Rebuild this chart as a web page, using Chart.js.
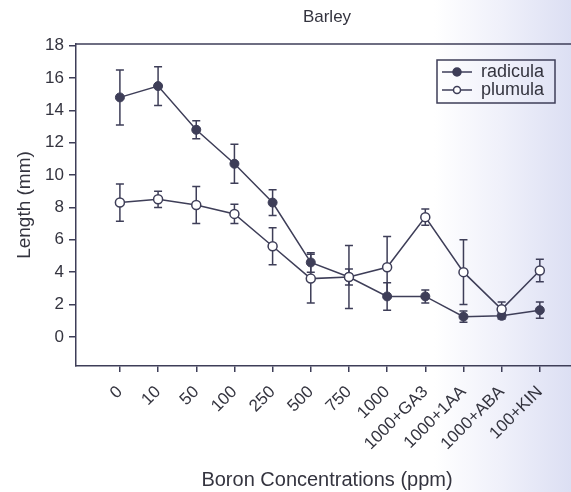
<!DOCTYPE html>
<html>
<head>
<meta charset="utf-8">
<title>Barley</title>
<script src="https://cdn.jsdelivr.net/npm/chart.js@4"></script>
<style>
  body {
    margin: 0;
    width: 571px;
    height: 492px;
    overflow: hidden;
    background: linear-gradient(90deg, #ffffff 0%, #ffffff 76%, #eff0fa 88%, #dcdff3 100%);
  }
</style>
</head>
<body>
<!-- the plot frame runs a little past the right edge, as in the scanned figure -->
<canvas id="chart" width="584" height="492"></canvas>
<script>
const categories = ["0", "10", "50", "100", "250", "500", "750", "1000", "1000+GA3", "1000+1AA", "1000+ABA", "100+KIN"];
const radicula = [14.8, 15.5, 12.8, 10.7, 8.3, 4.6, 3.7, 2.5, 2.5, 1.25, 1.3, 1.65];
const radiculaErr = [1.7, 1.2, 0.55, 1.2, 0.8, 0.6, 0.5, 0.85, 0.4, 0.35, 0.2, 0.5];
const plumula = [8.3, 8.5, 8.15, 7.6, 5.6, 3.6, 3.7, 4.3, 7.4, 4.0, 1.7, 4.1];
const plumulaErr = [1.15, 0.5, 1.15, 0.6, 1.15, 1.5, 1.95, 1.9, 0.5, 2.0, 0.45, 0.7];
const yTicks = [0, 2, 4, 6, 8, 10, 12, 14, 16, 18];

const ink = "#3e3e58";
const textColor = "#34343f";
const fontFamily = "'Liberation Sans', Arial, Helvetica, sans-serif";
const xMin = -1.15;
const xMax = 12.0;

function toPoints(values) {
  return values.map((v, i) => ({ x: i, y: v }));
}

// little line+circle sample for the legend
function legendSample(filled) {
  const c = document.createElement("canvas");
  c.width = 30;
  c.height = 12;
  const g = c.getContext("2d");
  g.strokeStyle = ink;
  g.lineWidth = 1.5;
  g.beginPath();
  g.moveTo(0, 6);
  g.lineTo(30, 6);
  g.stroke();
  g.beginPath();
  g.arc(15, 6, filled ? 4 : 3.5, 0, Math.PI * 2);
  g.fillStyle = filled ? ink : "#ffffff";
  g.fill();
  g.stroke();
  return c;
}

const errorBars = {
  id: "errorBars",
  beforeDatasetsDraw(chart) {
    const ctx = chart.ctx;
    const x = chart.scales.x;
    const y = chart.scales.y;
    const area = chart.chartArea;

    ctx.save();
    ctx.strokeStyle = ink;
    ctx.lineWidth = 1.5;

    // top frame line
    ctx.beginPath();
    ctx.moveTo(area.left, area.top);
    ctx.lineTo(chart.width, area.top);
    ctx.stroke();

    chart.data.datasets.forEach(ds => {
      ds.data.forEach((p, i) => {
        const px = x.getPixelForValue(p.x);
        const hi = y.getPixelForValue(p.y + ds.err[i]);
        const lo = y.getPixelForValue(p.y - ds.err[i]);
        ctx.beginPath();
        ctx.moveTo(px, hi);
        ctx.lineTo(px, lo);
        ctx.moveTo(px - 4, hi);
        ctx.lineTo(px + 4, hi);
        ctx.moveTo(px - 4, lo);
        ctx.lineTo(px + 4, lo);
        ctx.stroke();
      });
    });
    ctx.restore();
  }
};

const legendBox = {
  id: "legendBox",
  afterLayout(chart) {
    const lg = chart.legend;
    lg.left = 442;
    lg.top = 63;
  },
  afterDraw(chart) {
    const lg = chart.legend;
    const ctx = chart.ctx;
    ctx.save();
    ctx.strokeStyle = ink;
    ctx.lineWidth = 1.5;
    ctx.strokeRect(lg.left - 5, lg.top - 3, 118, 43);
    ctx.restore();
  }
};

new Chart(document.getElementById("chart"), {
  type: "line",
  data: {
    datasets: [
      {
        label: "radicula",
        data: toPoints(radicula),
        err: radiculaErr,
        order: 1,
        borderColor: ink,
        borderWidth: 1.5,
        pointRadius: 4.5,
        pointBackgroundColor: ink,
        pointBorderColor: ink,
        pointBorderWidth: 1,
        sample: legendSample(true)
      },
      {
        label: "plumula",
        data: toPoints(plumula),
        err: plumulaErr,
        order: 0,
        borderColor: ink,
        borderWidth: 1.5,
        pointRadius: 4.5,
        pointBackgroundColor: "#ffffff",
        pointBorderColor: ink,
        pointBorderWidth: 1.5,
        sample: legendSample(false)
      }
    ]
  },
  options: {
    responsive: false,
    animation: false,
    layout: { padding: 0 },
    plugins: {
      tooltip: { enabled: false },
      legend: {
        position: "chartArea",
        align: "start",
        labels: {
          color: textColor,
          font: { family: fontFamily, size: 18 },
          usePointStyle: true,
          pointStyleWidth: 30,
          boxHeight: 12,
          padding: 0,
          sort: (a, b) => a.datasetIndex - b.datasetIndex,
          generateLabels(chart) {
            return chart.data.datasets.map((ds, i) => ({
              text: ds.label,
              datasetIndex: i,
              pointStyle: ds.sample,
              fontColor: textColor,
              lineWidth: 0,
              strokeStyle: "transparent",
              fillStyle: "transparent"
            }));
          }
        }
      }
    },
    scales: {
      x: {
        type: "linear",
        min: xMin,
        max: xMax,
        afterBuildTicks(axis) {
          axis.ticks = categories.map((c, i) => ({ value: i }));
        },
        afterFit(axis) {
          axis.height = 126;
        },
        ticks: {
          autoSkip: false,
          minRotation: 45,
          maxRotation: 45,
          padding: 10,
          color: textColor,
          font: { family: fontFamily, size: 17 },
          callback: (value) => categories[value]
        },
        grid: {
          drawOnChartArea: false,
          tickLength: 6,
          color: ink,
          lineWidth: 1.5
        },
        border: { color: ink, width: 1.5 },
        title: {
          display: true,
          text: "Boron Concentrations (ppm)",
          color: textColor,
          font: { family: fontFamily, size: 20 },
          padding: { top: 2, bottom: 0 }
        }
      },
      // top axis only carries the "Barley" heading, centred over the plot
      top: {
        type: "linear",
        position: "top",
        min: xMin,
        max: xMax,
        afterFit(axis) {
          axis.height = 44;
        },
        ticks: { display: false },
        grid: { display: false },
        border: { display: false },
        title: {
          display: true,
          text: "Barley",
          color: textColor,
          font: { family: fontFamily, size: 17 },
          padding: { top: 7, bottom: 0 }
        }
      },
      y: {
        min: -1.8,
        max: 18.1,
        afterBuildTicks(axis) {
          axis.ticks = yTicks.map(v => ({ value: v }));
        },
        afterFit(axis) {
          axis.width = 76;
        },
        ticks: {
          padding: 5,
          color: textColor,
          font: { family: fontFamily, size: 17 }
        },
        grid: {
          drawOnChartArea: false,
          tickLength: 7,
          color: ink,
          lineWidth: 1.5
        },
        border: { color: ink, width: 1.5 },
        title: {
          display: true,
          text: "Length (mm)",
          color: textColor,
          font: { family: fontFamily, size: 19 },
          padding: { top: 13, bottom: 0 }
        }
      }
    }
  },
  plugins: [errorBars, legendBox]
});
</script>
</body>
</html>
